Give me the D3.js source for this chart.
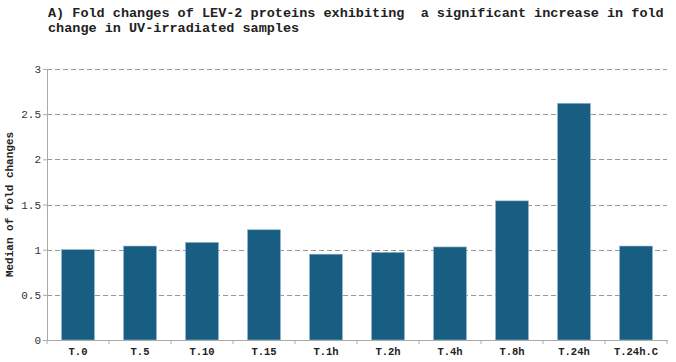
<!DOCTYPE html>
<html>
<head>
<meta charset="utf-8">
<script src="https://cdn.jsdelivr.net/npm/d3@7"></script>
<style>
  body { margin: 0; background: #fff; }
  text { font-family: "Liberation Mono", "DejaVu Sans Mono", monospace; fill: #222; }
</style>
</head>
<body>
<svg width="676" height="362"></svg>
<script>
const categories = ["T.0", "T.5", "T.10", "T.15", "T.1h", "T.2h", "T.4h", "T.8h", "T.24h", "T.24h.C"];
const medians = [1.0, 1.04, 1.08, 1.22, 0.95, 0.97, 1.03, 1.54, 2.62, 1.04];
const yTicks = [0, 0.5, 1, 1.5, 2, 2.5, 3];
const titleLines = [
  "A) Fold changes of LEV-2 proteins exhibiting  a significant increase in fold",
  "change in UV-irradiated samples"
];

const svg = d3.select("svg");
const margin = {top: 69, right: 9, bottom: 22, left: 47};
const width = 676 - margin.left - margin.right;
const height = 362 - margin.top - margin.bottom;

const x = d3.scaleBand().domain(categories).range([0, width]).paddingInner(0.47).paddingOuter(0.235);
const y = d3.scaleLinear().domain([0, 3]).range([height, 0]);

// title
svg.append("text")
    .attr("x", 48).attr("y", 17)
    .style("font-size", "13.5px").style("font-weight", "bold")
    .style("white-space", "pre")
    .selectAll("tspan").data(titleLines).enter().append("tspan")
    .attr("x", 48).attr("dy", (d, i) => i ? 14.5 : 0)
    .text(d => d);

const g = svg.append("g").attr("transform", `translate(${margin.left},${margin.top})`);

// gridlines
g.selectAll(".grid").data(yTicks.filter(t => t > 0)).enter().append("line")
    .attr("x1", 0).attr("x2", width)
    .attr("y1", d => Math.round(y(d)) + 0.5).attr("y2", d => Math.round(y(d)) + 0.5)
    .attr("stroke", "#999").attr("stroke-dasharray", "5,3");

// bars
g.selectAll(".bar").data(medians).enter().append("rect")
    .attr("x", (d, i) => x(categories[i]))
    .attr("y", d => y(d))
    .attr("width", x.bandwidth())
    .attr("height", d => height - y(d))
    .attr("fill", "#175e82")
    .attr("stroke", "#8fb3c6").attr("stroke-width", 0.6);

// y axis
const yAxis = g.append("g").call(d3.axisLeft(y).tickValues(yTicks).tickSize(4).tickFormat(d3.format("")));
yAxis.select(".domain").attr("stroke", "#aaa");
yAxis.selectAll(".tick line").attr("stroke", "#aaa");
yAxis.selectAll("text").style("font-size", "11px").style("fill", "#333").attr("x", -6);

// x axis with ticks at band boundaries
const xAxis = g.append("g").attr("transform", `translate(0,${height})`)
    .call(d3.axisBottom(x).tickSize(0).tickPadding(8));
xAxis.select(".domain").attr("stroke", "#aaa");
xAxis.selectAll("text").style("font-size", "10.5px").style("font-weight", "bold");
xAxis.selectAll(".sep").data(d3.range(categories.length + 1)).enter().append("line")
    .attr("x1", i => i * x.step()).attr("x2", i => i * x.step())
    .attr("y1", 0).attr("y2", 4).attr("stroke", "#aaa");

// y axis title
svg.append("text")
    .attr("transform", `translate(13,${margin.top + height / 2}) rotate(-90)`)
    .attr("text-anchor", "middle")
    .style("font-size", "11px").style("font-weight", "bold")
    .text("Median of fold changes");
</script>
</body>
</html>
